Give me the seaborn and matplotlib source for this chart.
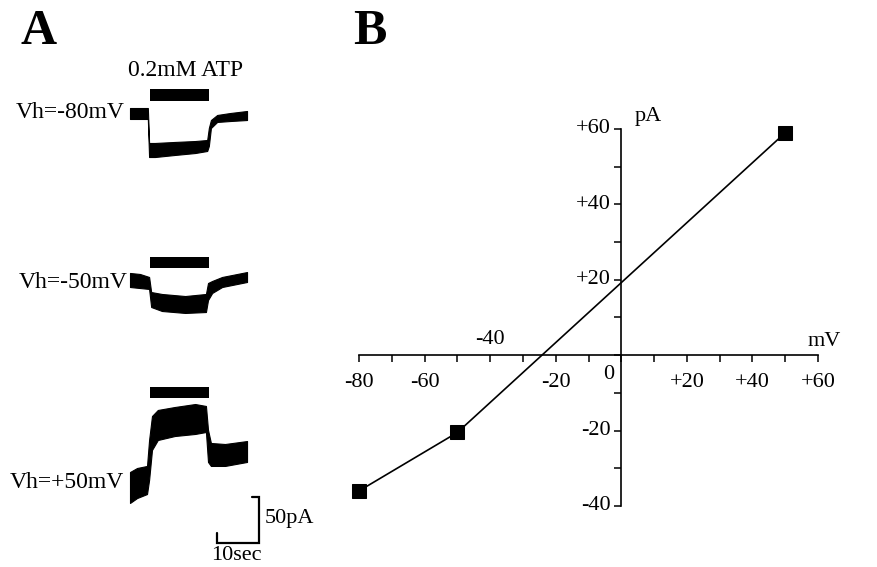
import matplotlib
matplotlib.use('Agg')
import matplotlib.pyplot as plt
import seaborn as sns

# ---------------- panel B: I-V relation of ATP current ----------------
vh_mv = [-80, -50, 50]
current_pa = [-36, -20.5, 59]

x_tick_vals = [-80, -60, -40, -20, 0, 20, 40, 60]
x_tick_text = ['-80', '-60', '-40', '-20', '0', '+20', '+40', '+60']
y_tick_vals = [-40, -20, 20, 40, 60]
y_tick_text = ['-40', '-20', '+20', '+40', '+60']

# ---------------- panel A: whole-cell current traces ----------------
# envelope of the noisy band (upper / lower edge), pA relative to the
# pre-ATP baseline, time in sec from the start of the record
atp_on, atp_off = 4.8, 19.0
holding_labels = ['Vh=-80mV', 'Vh=-50mV', 'Vh=+50mV']

t_m80 = [0, 4.3, 4.6, 6.0, 10.8, 15.7, 18.6, 19.0, 19.5, 21.0, 24.1, 28.2]
hi_m80 = [5.9, 5.9, -31.7, -31.7, -30.6, -29.6, -28.5, -15.6, -7.0, -1.6, 0.5, 2.7]
lo_m80 = [-5.9, -5.9, -46.8, -46.8, -44.6, -42.5, -40.3, -34.9, -15.6, -9.1, -8.1, -7.0]

t_m50 = [0, 2.4, 4.6, 5.1, 7.7, 13.3, 18.3, 18.8, 19.8, 22.2, 28.2]
hi_m50 = [8.1, 7.0, 3.8, -12.4, -14.5, -16.7, -14.5, -2.7, -0.5, 3.8, 9.1]
lo_m50 = [-7.0, -8.1, -9.1, -28.5, -32.8, -34.9, -33.9, -21.0, -13.4, -7.0, -1.6]

t_p50 = [0, 1.7, 4.1, 4.6, 5.3, 6.7, 10.8, 15.7, 18.3, 18.8, 19.5, 22.9, 28.2]
hi_p50 = [12.9, 17.2, 19.4, 47.3, 73.1, 79.6, 82.8, 86.0, 83.9, 58.1, 44.1, 43.0, 46.2]
lo_p50 = [-20.4, -15.1, -10.8, 4.3, 36.6, 47.3, 51.6, 53.8, 55.9, 23.7, 19.4, 19.4, 23.7]

scale_sec, scale_pa = 10, 50

# ---------------- layout ----------------
W, H = 878, 567
sec_per_px = 10 / 41.5
pa_per_px = 50 / 46.5
t0_px = 130                       # start of the traces
base_px = [113.5, 280.5, 484]     # baseline row of each trace
bar_px = [(89, 101), (257, 268), (387, 398)]
label_px = [(125, 112), (128, 282), (124, 482)]

sns.set_style('white')
plt.rcParams['font.family'] = ['Liberation Serif', 'DejaVu Serif']
plt.rcParams['text.color'] = 'black'

fig = plt.figure(figsize=(W / 100, H / 100), dpi=100)


def px_t(px):
    return (px - t0_px) * sec_per_px


def px_pa(py):
    return (H - py) * pa_per_px


# panel A
ax_a = fig.add_axes([0, 0, 1, 1])
ax_a.set_xlim(px_t(0), px_t(W))
ax_a.set_ylim(0, H * pa_per_px)
ax_a.axis('off')

traces = [(t_m80, hi_m80, lo_m80), (t_m50, hi_m50, lo_m50), (t_p50, hi_p50, lo_p50)]
for k, (tt, hi, lo) in enumerate(traces):
    b = px_pa(base_px[k])
    ax_a.fill_between(tt, [b + v for v in hi], [b + v for v in lo],
                      color='black', linewidth=0.8, edgecolor='black')
    ax_a.fill_between([atp_on, atp_off], px_pa(bar_px[k][1]), px_pa(bar_px[k][0]),
                      color='black', linewidth=0)
    fig.text(label_px[k][0] / W, 1 - label_px[k][1] / H, holding_labels[k],
             ha='right', va='center', fontsize=17)

fig.text(186 / W, 1 - 70 / H, '0.2mM ATP', ha='center', va='center', fontsize=17)

# scale bar
sx0, sy0 = px_t(217), px_pa(543)
ax_a.plot([sx0, sx0, sx0 + scale_sec, sx0 + scale_sec, sx0 + scale_sec - 6 * sec_per_px],
          [sy0 + 10 * pa_per_px, sy0, sy0, sy0 + scale_pa, sy0 + scale_pa],
          color='black', linewidth=1.6, solid_joinstyle='miter')
fig.text(265 / W, 1 - 519 / H, '50pA', ha='left', va='center', fontsize=16)
fig.text(236 / W, 1 - 556 / H, '10sec', ha='center', va='center', fontsize=16)

# panel B
ax_b = fig.add_axes([359 / W, (H - 506) / H, 459 / W, 377 / H])
ax_b.set_facecolor('none')
sns.lineplot(x=vh_mv, y=current_pa, ax=ax_b, color='black', linewidth=1.2,
             marker='s', markersize=10, markeredgecolor='black', sort=False,
             clip_on=False)
ax_b.set_xlim(-80, 60)
ax_b.set_ylim(-40, 60)
for s in ['top', 'right']:
    ax_b.spines[s].set_visible(False)
for s in ['left', 'bottom']:
    ax_b.spines[s].set_position(('data', 0))
    ax_b.spines[s].set_linewidth(1.2)
    ax_b.spines[s].set_color('black')
ax_b.set_xticks(range(-80, 61, 20))
ax_b.set_xticks(range(-70, 61, 20), minor=True)
ax_b.set_yticks(range(-40, 61, 20))
ax_b.set_yticks(range(-30, 61, 20), minor=True)
ax_b.tick_params(which='both', direction='out', length=5, width=1.1, color='black',
                 labelbottom=False, labelleft=False, bottom=True, left=True)

for v, s in zip(x_tick_vals, x_tick_text):
    if v == -40:
        ax_b.text(v, 4.2, s, ha='center', va='center', fontsize=16)
    elif v == 0:
        ax_b.text(-3.7, -5.0, s, ha='center', va='center', fontsize=16)
    else:
        ax_b.text(v, -7.2, s, ha='center', va='center', fontsize=16)
for v, s in zip(y_tick_vals, y_tick_text):
    ax_b.text(-3.35, v, s, ha='right', va='center', fontsize=16)
ax_b.text(8.2, 63.4, 'pA', ha='center', va='center', fontsize=16)
ax_b.text(61.9, 3.7, 'mV', ha='center', va='center', fontsize=16)

fig.text(39 / W, 1 - 32 / H, 'A', ha='center', va='center', fontsize=36, fontweight='bold')
fig.text(370 / W, 1 - 32 / H, 'B', ha='center', va='center', fontsize=36, fontweight='bold')

fig.savefig('out.png', dpi=100)
